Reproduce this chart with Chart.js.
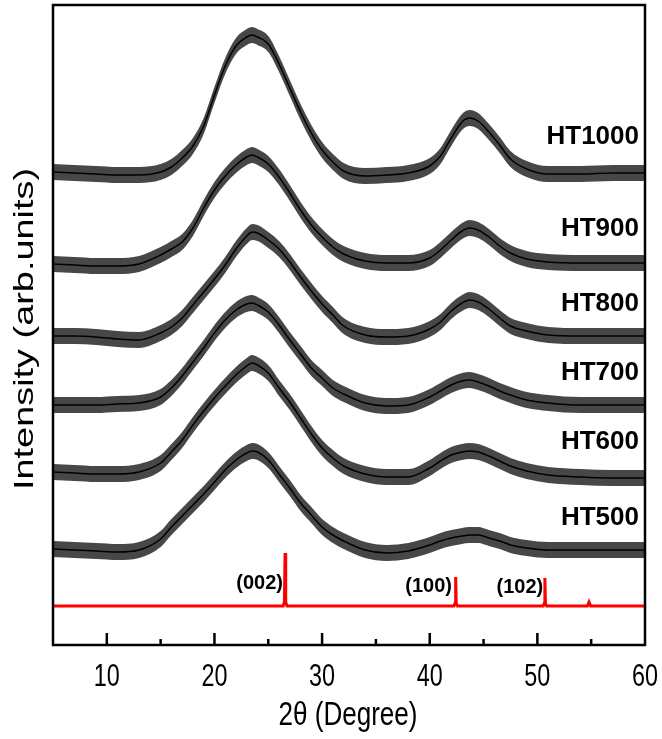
<!DOCTYPE html>
<html>
<head>
<meta charset="utf-8">
<script src="https://cdn.jsdelivr.net/npm/chart.js@4.4.0/dist/chart.umd.min.js"></script>
<style>
  html, body { margin: 0; padding: 0; background: #fff; }
  #wrap { width: 662px; height: 739px; }
</style>
</head>
<body>
<div id="wrap"><canvas id="xrd" width="662" height="739"></canvas></div>
<script>
const twoTheta = [5, 7, 9, 11, 13, 15, 16, 17, 18, 19, 20, 21, 22, 23, 23.5, 24, 25, 26, 27, 28, 29, 30,
  31, 32, 34, 36, 38, 40, 41, 42, 43, 43.7, 44.5, 45.5, 46.5, 47.5, 49, 51, 54, 57, 60];

// stacked intensities (arb. units), mean of the noisy trace
const ht1000 = [473, 472, 471, 470, 470, 473, 478, 487, 499, 519, 550, 579, 599, 608, 610, 608, 601, 581, 557, 533, 512, 495,
  483, 474, 469, 470, 472, 479, 489, 507, 523, 527, 524, 513, 500, 486, 476, 471, 471, 472, 472];
const ht900 = [381, 380, 379, 379, 381, 390, 396, 403, 417, 437, 455, 469, 480, 488, 490, 488, 481, 468, 452, 435, 420, 408,
  398, 391, 384, 382, 382, 387, 395, 405, 414, 417, 415, 408, 399, 392, 386, 383, 382, 382, 382];
const ht800 = [309, 309, 308, 306, 305, 312, 318, 327, 340, 353, 366, 380, 396, 409, 413, 412, 405, 396, 383, 368, 354, 341,
  330, 319, 310, 308, 309, 316, 323, 334, 342, 345, 343, 336, 327, 319, 314, 310, 309, 309, 309];
const ht700 = [240, 240, 240, 241, 242, 248, 257, 269, 283, 297, 312, 325, 335, 341, 342, 340, 333, 320, 305, 291, 277, 267,
  257, 251, 242, 239, 240, 248, 254, 260, 264, 265, 263, 259, 254, 250, 245, 242, 240, 240, 240];
const ht600 = [173, 172, 171, 171, 173, 182, 193, 205, 220, 234, 247, 259, 270, 279, 282, 280, 272, 257, 243, 227, 211, 197,
  187, 179, 171, 168, 168, 177, 184, 190, 193, 194, 193, 189, 184, 179, 174, 170, 168, 167, 167];
const ht500 = [96, 95, 94, 93, 95, 106, 118, 129, 140, 151, 163, 175, 185, 192, 194, 193, 185, 171, 157, 142, 130, 118,
  110, 104, 95, 92, 94, 100, 104, 107, 109, 110, 110, 107, 104, 100, 97, 95, 95, 95, 95];

const samples = ['HT1000', 'HT900', 'HT800', 'HT700', 'HT600', 'HT500'];
// half height of the noise band around each trace
const noiseHalf = [8, 8, 8, 8, 8, 8];

// graphite reference pattern (red)
const refX = [5, 26.38, 26.5, 26.56, 26.62, 26.74, 42.25, 42.36, 42.41, 42.46, 42.57,
  50.54, 50.65, 50.7, 50.75, 50.86, 54.65, 54.8, 54.95, 60];
const refY = [39, 39, 43, 92, 43, 39, 39, 42, 68, 42, 39, 39, 42, 67, 42, 39, 39, 43, 39, 39];
const peakNames = ['(002)', '(100)', '(102)'];

const xTicks = [10, 20, 30, 40, 50, 60];

const series = [ht1000, ht900, ht800, ht700, ht600, ht500];
const datasets = [];
series.forEach((vals, i) => {
  const pts = (d) => twoTheta.map((t, k) => ({ x: t, y: vals[k] + d }));
  datasets.push({ label: samples[i] + ' lo', data: pts(-noiseHalf[i]), borderWidth: 0, pointRadius: 0,
    fill: false, cubicInterpolationMode: 'monotone' });
  datasets.push({ label: samples[i] + ' hi', data: pts(noiseHalf[i]), borderWidth: 0, pointRadius: 0,
    fill: '-1', backgroundColor: 'rgba(0,0,0,0.72)', cubicInterpolationMode: 'monotone' });
  datasets.push({ label: samples[i], data: pts(0), borderColor: '#000', borderWidth: 1.5, pointRadius: 0,
    fill: false, cubicInterpolationMode: 'monotone' });
});
datasets.push({ label: 'ref', data: refX.map((t, k) => ({ x: t, y: refY[k] })), borderColor: '#ff0000',
  borderWidth: 3, pointRadius: 0, fill: false, tension: 0 });

// the original figure is squeezed sideways, so text is drawn condensed
function squeezed(ctx, text, px, py, font, targetW, align) {
  ctx.save();
  ctx.font = font;
  const w = ctx.measureText(text).width;
  const k = targetW / w;
  ctx.translate(px, py);
  ctx.scale(k, 1);
  ctx.textAlign = align;
  ctx.fillText(text, 0, 0);
  ctx.restore();
}

const deco = {
  id: 'deco',
  afterDraw(chart) {
    const { ctx, chartArea: a, scales: { x, y } } = chart;
    ctx.save();
    ctx.strokeStyle = '#000';
    ctx.lineWidth = 2.5;
    ctx.strokeRect(a.left, a.top, a.right - a.left, a.bottom - a.top);

    // ticks point into the plot
    const minor = xTicks.slice(0, -1).map((t, i) => (t + xTicks[i + 1]) / 2);
    ctx.beginPath();
    xTicks.slice(0, -1).forEach(t => { const p = x.getPixelForValue(t); ctx.moveTo(p, a.bottom); ctx.lineTo(p, a.bottom - 12); });
    minor.forEach(t => { const p = x.getPixelForValue(t); ctx.moveTo(p, a.bottom); ctx.lineTo(p, a.bottom - 6); });
    ctx.stroke();

    ctx.fillStyle = '#000';
    ctx.textBaseline = 'alphabetic';
    // tick labels from the scale's own ticks
    x.ticks.forEach(t => {
      const s = String(t.value);
      squeezed(ctx, s, x.getPixelForValue(t.value), a.bottom + 41, '31px "Liberation Sans", Arial, sans-serif',
        s.length * 13, 'center');
    });
    squeezed(ctx, '2θ (Degree)', (a.left + a.right) / 2 - 1, a.bottom + 80,
      '34px "Liberation Sans", Arial, sans-serif', 139, 'center');

    // sample names
    ctx.font = 'bold 26px "Liberation Sans", Arial, sans-serif';
    ctx.textAlign = 'right';
    ctx.textBaseline = 'middle';
    const nameY = [508, 416, 341, 272, 203, 127];
    samples.forEach((s, i) => ctx.fillText(s, x.getPixelForValue(59.44), y.getPixelForValue(nameY[i])));

    // reflection indices
    ctx.font = 'bold 20px "Liberation Sans", Arial, sans-serif';
    ctx.textAlign = 'center';
    const peakAt = [[24.2, 62], [39.9, 59], [48.37, 58]];
    peakNames.forEach((s, i) => ctx.fillText(s, x.getPixelForValue(peakAt[i][0]), y.getPixelForValue(peakAt[i][1])));

    // y title, stretched like the original
    const yt = 'Intensity (arb.units)';
    ctx.translate(33, (a.top + a.bottom) / 2 + 4);
    ctx.rotate(-Math.PI / 2);
    ctx.font = '28px "Liberation Sans", Arial, sans-serif';
    ctx.textBaseline = 'alphabetic';
    const w = ctx.measureText(yt).width;
    ctx.scale(322 / w, 1);
    ctx.fillText(yt, 0, 0);
    ctx.restore();
  }
};

new Chart(document.getElementById('xrd'), {
  type: 'line',
  data: { datasets },
  options: {
    responsive: false,
    devicePixelRatio: 1,
    animation: false,
    layout: { padding: { top: 5, right: 17, left: 0, bottom: 0 } },
    plugins: { legend: { display: false }, tooltip: { enabled: false } },
    scales: {
      x: {
        type: 'linear', min: 5, max: 60,
        afterFit: s => { s.height = 94; s.paddingLeft = 0; s.paddingRight = 0; },
        afterBuildTicks: s => { s.ticks = xTicks.map(v => ({ value: v })); },
        grid: { display: false },
        border: { display: false },
        ticks: { display: false }
      },
      y: {
        type: 'linear', min: 0, max: 640,
        afterFit: s => { s.width = 53; },
        grid: { display: false },
        border: { display: false },
        ticks: { display: false }
      }
    }
  },
  plugins: [deco]
});
</script>
</body>
</html>
